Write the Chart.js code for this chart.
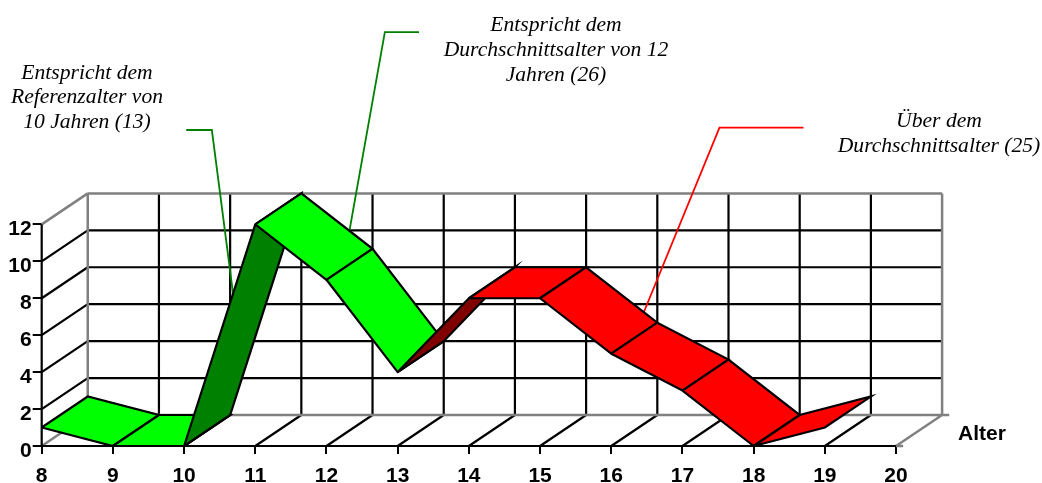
<!DOCTYPE html>
<html lang="de">
<head>
<meta charset="utf-8">
<title>Alter</title>
<style>html,body{margin:0;padding:0;background:#fff}canvas{display:block}</style>
<script src="https://cdn.jsdelivr.net/npm/chart.js@4"></script>
</head>
<body>
<canvas id="c" width="1042" height="483"></canvas>
<script>
const ages = [8, 9, 10, 11, 12, 13, 14, 15, 16, 17, 18, 19];
const counts = [1, 0, 0, 12, 9, 4, 8, 8, 5, 3, 0, 1];
const segmentColors = ['#00ff00','#00ff00','#008000','#00ff00','#00ff00','#800000','#ff0000','#ff0000','#ff0000','#ff0000','#ff0000'];
const xTicks = [8, 9, 10, 11, 12, 13, 14, 15, 16, 17, 18, 19, 20];
const yTicks = [0, 2, 4, 6, 8, 10, 12];
const leaderA = [{x:10.03,y:17.11},{x:10.39,y:17.11},{x:10.69,y:8.18}];
const leaderB = [{x:13.30,y:22.41},{x:12.82,y:22.41},{x:12.32,y:11.60}];
const leaderC = [{x:18.70,y:17.24},{x:17.52,y:17.24},{x:16.46,y:7.27}];
const notes = [
  {lines:['Entspricht dem','Referenzalter von','10 Jahren (13)'], cx:87, y:[79,103,128]},
  {lines:['Entspricht dem','Durchschnittsalter von 12','Jahren (26)'], cx:556, y:[31,56,81]},
  {lines:['Über dem','Durchschnittsalter (25)'], cx:939, y:[127,152]}
];
const depthX = 0.6467, depthY = 1.678;

const xMin = xTicks[0], xMax = xTicks[xTicks.length-1];
const yMin = yTicks[0], yMax = yTicks[yTicks.length-1];
const gap = {x:null,y:null};
const seg = (x1,y1,x2,y2)=>[{x:x1,y:y1},{x:x2,y:y2},gap];

// black grid on back wall, left wall and floor
const grid = [];
yTicks.filter(v=>v>yMin && v<yMax).forEach(v=>{
  grid.push(...seg(xMin,v,xMin+depthX,v+depthY));
  grid.push(...seg(xMin+depthX,v+depthY,xMax+depthX,v+depthY));
});
xTicks.filter(v=>v>xMin && v<xMax).forEach(v=>{
  grid.push(...seg(v,yMin,v+depthX,yMin+depthY));
  grid.push(...seg(v+depthX,yMin+depthY,v+depthX,yMax+depthY));
});
// grey frame
const frame = [
  ...seg(xMin+depthX,yMin+depthY,xMin+depthX,yMax+depthY),
  ...seg(xMin+depthX,yMax+depthY,xMax+depthX,yMax+depthY),
  ...seg(xMax+depthX,yMax+depthY,xMax+depthX,yMin+depthY),
  ...seg(xMin+depthX,yMin+depthY,xMax+depthX+0.1,yMin+depthY),
  ...seg(xMin,yMax,xMin+depthX,yMax+depthY),
  ...seg(xMin,yMin,xMin+depthX,yMin+depthY),
  ...seg(xMax,yMin,xMax+depthX,yMin+depthY),
  ...seg(xMax,yMin,xMax+0.1,yMin)
];
const axes = [...seg(xMin,yMin,xMin,yMax), ...seg(xMin,yMin,xMax,yMin)];

const lineBase = {showLine:true,pointRadius:0,pointHoverRadius:0,tension:0,clip:false,fill:false,spanGaps:false};
const layers = [
  {...lineBase,label:'grid',data:grid,borderColor:'#000',borderWidth:2.2},
  {...lineBase,label:'frame',data:frame,borderColor:'#808080',borderWidth:2.5},
  {...lineBase,label:'axes',data:axes,borderColor:'#000',borderWidth:2.2},
  {...lineBase,label:'leader 10',data:leaderA,borderColor:'#008000',borderWidth:1.8},
  {...lineBase,label:'leader 12',data:leaderB,borderColor:'#008000',borderWidth:1.8},
  {...lineBase,label:'leader over',data:leaderC,borderColor:'#ff0000',borderWidth:1.8}
];
for (let i=0;i<ages.length-1;i++){
  const a=ages[i], b=ages[i+1], p=counts[i], q=counts[i+1];
  layers.push({...lineBase,label:'Alter '+a+'-'+b,
    data:[{x:a,y:p},{x:b,y:q},{x:b+depthX,y:q+depthY},{x:a+depthX,y:p+depthY},{x:a,y:p}],
    borderColor:'#000',borderWidth:2.2,backgroundColor:segmentColors[i],fill:'shape'});
}
layers.forEach((d,i)=>{d.order=layers.length-i;});

const notesPlugin = {
  id:'notes',
  afterDraw(chart){
    const ctx=chart.ctx;
    ctx.save();
    ctx.fillStyle='#000';
    ctx.textAlign='center';
    ctx.textBaseline='alphabetic';
    ctx.font='italic 21.6px "Liberation Serif"';
    notes.forEach(n=>n.lines.forEach((t,i)=>ctx.fillText(t,n.cx,n.y[i])));
    ctx.font='bold 21px "Liberation Sans"';
    ctx.textAlign='left';
    ctx.fillText('Alter',958,440);
    ctx.restore();
  }
};

new Chart(document.getElementById('c'),{
  type:'scatter',
  data:{datasets:layers},
  plugins:[notesPlugin],
  options:{
    responsive:false,
    animation:false,
    events:[],
    layout:{padding:0},
    plugins:{legend:{display:false},tooltip:{enabled:false},title:{display:false}},
    scales:{
      x:{type:'linear',min:8,max:22.05,
        afterBuildTicks(s){s.ticks=xTicks.map(v=>({value:v}));},
        afterFit(s){s.height=37;s.paddingLeft=0;s.paddingRight=0;},
        border:{display:false},
        grid:{drawOnChartArea:false,drawTicks:true,tickLength:8,color:'#000',lineWidth:2},
        ticks:{autoSkip:false,maxRotation:0,padding:10,color:'#000',font:{family:'"Liberation Sans"',size:21,weight:'bold'},callback:v=>String(v)}
      },
      y:{type:'linear',min:0,max:24.15,
        afterBuildTicks(s){s.ticks=yTicks.map(v=>({value:v}));},
        afterFit(s){s.width=41.7;s.paddingTop=0;s.paddingBottom=0;},
        border:{display:false},
        grid:{drawOnChartArea:false,drawTicks:true,tickLength:9,color:'#000',lineWidth:2},
        ticks:{autoSkip:false,padding:1,color:'#000',font:{family:'"Liberation Sans"',size:21,weight:'bold',lineHeight:'10px'},callback:v=>['',String(v)]}
      }
    }
  }
});
</script>
</body>
</html>
